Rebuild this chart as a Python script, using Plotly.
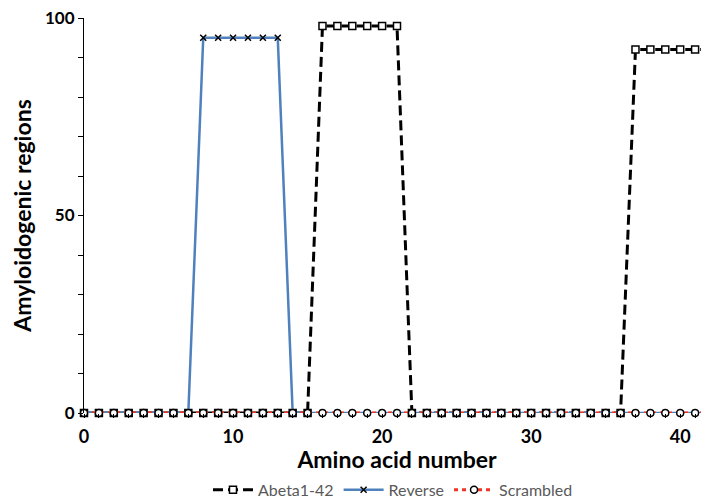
import plotly.graph_objects as go

# amino acid positions 0..42
positions = list(range(43))

# amyloidogenic region values
abeta = [0] * 16 + [98] * 6 + [0] * 15 + [92] * 6
reverse = [0] * 8 + [95] * 6 + [0] * 29
scrambled = [0] * 43

series_names = ["Abeta1-42", "Reverse", "Scrambled"]
x_ticks = [0, 10, 20, 30, 40]
y_ticks = [0, 50, 100]

FONT = "Lato, 'Open Sans', sans-serif"

fig = go.Figure()

fig.add_trace(go.Scatter(
    x=positions, y=abeta, name=series_names[0],
    mode="lines+markers",
    line=dict(color="black", width=3, dash="10px,5px"),
    marker=dict(symbol="square", size=7, color="white",
                line=dict(color="black", width=1.5)),
    cliponaxis=False,
))

fig.add_trace(go.Scatter(
    x=positions, y=reverse, name=series_names[1],
    mode="lines+markers",
    line=dict(color="#4F81BD", width=2.5),
    marker=dict(symbol="x-thin", size=6, color="black",
                line=dict(color="black", width=1.5)),
    cliponaxis=False,
))

fig.add_trace(go.Scatter(
    x=positions, y=scrambled, name=series_names[2],
    mode="lines+markers",
    line=dict(color="#EE3524", width=3, dash="4px,4px"),
    marker=dict(symbol="circle", size=7, color="white",
                line=dict(color="black", width=1.5)),
    cliponaxis=False,
))

fig.update_layout(
    width=709, height=502,
    margin=dict(l=76, r=7, t=10, b=97),
    paper_bgcolor="white", plot_bgcolor="white",
    font=dict(family=FONT, color="black"),
    legend=dict(orientation="h", xref="container", yref="container",
                x=0.543, xanchor="center", y=0.04, yanchor="middle",
                font=dict(size=16, color="#595959"),
                itemwidth=40, tracegroupgap=0),
    xaxis=dict(
        range=[0, 42], tickvals=x_ticks, showgrid=False, zeroline=False,
        showline=False, ticks="outside", ticklen=4, tickcolor="black",
        minor=dict(dtick=1, ticks="outside", ticklen=4, tickcolor="black"),
        tickfont=dict(size=18, family=FONT, weight="bold"),
        ticklabelstandoff=3, automargin=False, ticklabeloverflow="allow",
        title=dict(text="<b>Amino acid number</b>", font=dict(size=23),
                   standoff=9),
    ),
    yaxis=dict(
        range=[0, 100], tickvals=y_ticks, showgrid=False, zeroline=False,
        showline=True, linecolor="black", linewidth=1,
        ticks="outside", ticklen=5, tickcolor="black",
        minor=dict(dtick=10, ticks="outside", ticklen=5, tickcolor="black"),
        tickfont=dict(size=17, family=FONT, weight="bold"),
        automargin=False, ticklabeloverflow="allow",
        title=dict(text="<b>Amyloidogenic regions</b>", font=dict(size=23),
                   standoff=6),
    ),
)

fig.write_html("out.html")
